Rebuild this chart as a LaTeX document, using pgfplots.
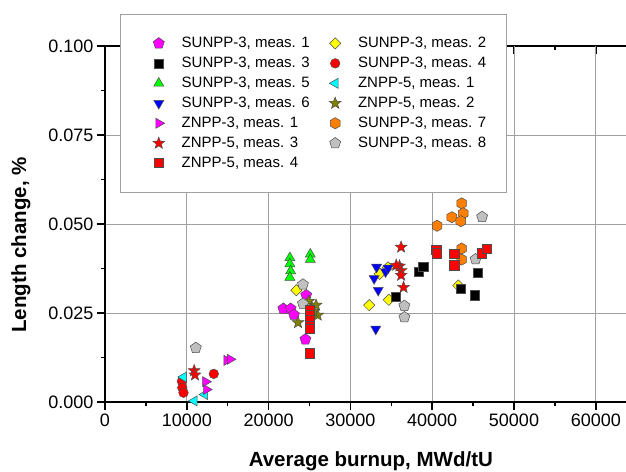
\documentclass[border=0pt]{standalone}
\usepackage{fontspec}
\setmainfont{Liberation Sans}
\usepackage{pgfplots}
\pgfplotsset{compat=1.18}

\definecolor{lgray}{RGB}{192,192,192}
\definecolor{gridgray}{RGB}{160,160,160}
\definecolor{cMag}{RGB}{255,0,255}
\definecolor{cYel}{RGB}{255,255,0}
\definecolor{cCyan}{RGB}{0,255,255}
\definecolor{cGreen}{RGB}{0,255,0}
\definecolor{cBlue}{RGB}{0,0,255}
\definecolor{cRed}{RGB}{255,0,0}
\definecolor{cOlive}{RGB}{128,128,0}
\definecolor{cOrange}{RGB}{255,128,0}

\pgfdeclareplotmark{hexagon*}{%
  \pgfpathmoveto{\pgfpointpolar{90}{\pgfplotmarksize}}%
  \pgfpathlineto{\pgfpointpolar{150}{\pgfplotmarksize}}%
  \pgfpathlineto{\pgfpointpolar{210}{\pgfplotmarksize}}%
  \pgfpathlineto{\pgfpointpolar{270}{\pgfplotmarksize}}%
  \pgfpathlineto{\pgfpointpolar{330}{\pgfplotmarksize}}%
  \pgfpathlineto{\pgfpointpolar{30}{\pgfplotmarksize}}%
  \pgfpathclose
  \pgfusepathqfillstroke}
\pgfdeclareplotmark{star5*}{%
  \pgfpathmoveto{\pgfpointpolar{90}{\pgfplotmarksize}}%
  \pgfpathlineto{\pgfpointpolar{126}{0.42\pgfplotmarksize}}%
  \pgfpathlineto{\pgfpointpolar{162}{\pgfplotmarksize}}%
  \pgfpathlineto{\pgfpointpolar{198}{0.42\pgfplotmarksize}}%
  \pgfpathlineto{\pgfpointpolar{234}{\pgfplotmarksize}}%
  \pgfpathlineto{\pgfpointpolar{270}{0.42\pgfplotmarksize}}%
  \pgfpathlineto{\pgfpointpolar{306}{\pgfplotmarksize}}%
  \pgfpathlineto{\pgfpointpolar{342}{0.42\pgfplotmarksize}}%
  \pgfpathlineto{\pgfpointpolar{18}{\pgfplotmarksize}}%
  \pgfpathlineto{\pgfpointpolar{54}{0.42\pgfplotmarksize}}%
  \pgfpathclose
  \pgfusepathqfillstroke}

\pgfplotsset{
  pt/.style={only marks, every mark/.append style={draw=black!70, line width=0.5pt, fill=#1}},
}

\begin{document}
\begin{tikzpicture}
% top frame line with inward ticks
\begin{axis}[
  name=topax,
  scale only axis, width=531.7pt, height=356pt,
  xmin=0, xmax=65000, ymin=0, ymax=0.1,
  axis x line*=top, axis y line=none,
  x axis line style={-, line width=2pt},
  scaled ticks=false,
  xtick={0,10000,...,60000},
  minor xtick={5000,15000,25000,35000,45000,55000},
  xticklabels={},
  tick align=inside,
  major tick length=8pt, minor tick length=4pt,
  tick style={black, line width=1.5pt},
]
\end{axis}

\begin{axis}[
  name=ax,
  scale only axis, width=531.7pt, height=356pt,
  xmin=0, xmax=65000, ymin=0, ymax=0.1,
  axis x line*=bottom, axis y line*=left,
  x axis line style={-}, y axis line style={-},
  axis line style={line width=2pt},
  xtick={0,10000,...,60000},
  minor xtick={5000,15000,25000,35000,45000,55000},
  ytick={0,0.025,0.05,0.075},
  extra y ticks={0.1},
  extra tick style={grid=none},
  minor ytick={0.0125,0.0375,0.0625,0.0875},
  tick align=outside,
  major tick length=8pt, minor tick length=4pt,
  tick style={black, line width=1.5pt},
  grid=major,
  major grid style={gridgray, line width=0.8pt},
  scaled ticks=false,
  /pgf/number format/assume math mode=true,
  tick label style={font=\fontsize{18}{20}\selectfont},
  xticklabel style={/pgf/number format/1000 sep={}},
  yticklabel style={/pgf/number format/.cd, fixed, fixed zerofill, precision=3},
  xlabel={Average burnup, MWd/tU},
  ylabel={Length change, \%},
  every axis x label/.style={at={(axis description cs:0.5,-0.1798)}, anchor=base,
    font=\fontsize{20.5}{24}\selectfont\bfseries},
  every axis y label/.style={at={(axis description cs:-0.158,0.441)}, rotate=90, anchor=center,
    font=\fontsize{20.5}{24}\selectfont\bfseries},
  legend columns=2,
  legend cell align=left,
  legend image code/.code={\path (-20pt,0pt); \draw[#1] plot coordinates {(0pt,0pt)};},
  legend style={
    at={(0.0282,1.0899)}, anchor=north west,
    draw=gridgray, line width=0.8pt, fill=white,
    font=\fontsize{15}{17}\selectfont,
    inner xsep=18pt, inner ysep=21pt,
    row sep=4pt,
    /tikz/every odd column/.append style={column sep=15pt},
    /tikz/every even column/.append style={column sep=3pt},
  },
]

% SUNPP-3, meas. 1
\addplot[pt=cMag, mark=pentagon*, mark size=5.8pt] coordinates {
  (21800,0.0262) (22700,0.0262) (23100,0.0245) (24600,0.0300) (24500,0.0176)
};
\addlegendentry{SUNPP-3, meas. 1}

% SUNPP-3, meas. 2
\addplot[pt=cYel, mark=square*, mark size=4pt, every mark/.append style={rotate=45}] coordinates {
  (23400,0.0314) (32300,0.0272) (34700,0.0287) (33600,0.0360) (34600,0.0378) (43200,0.0327)
};
\addlegendentry{SUNPP-3, meas. 2}

% SUNPP-3, meas. 3
\addplot[pt=black, mark=square*, mark size=4.6pt] coordinates {
  (35500,0.0295) (38400,0.0366) (38900,0.0380) (43500,0.0318) (45600,0.0363) (45200,0.0300)
};
\addlegendentry{SUNPP-3, meas. 3}

% SUNPP-3, meas. 4
\addplot[pt=cRed, mark=*, mark size=4.8pt] coordinates {
  (9400,0.0058) (9450,0.0040) (9600,0.0026) (13300,0.0079)
};
\addlegendentry{SUNPP-3, meas. 4}

% SUNPP-3, meas. 5
\addplot[pt=cGreen, mark=triangle*, mark size=5.8pt] coordinates {
  (22600,0.0405) (22600,0.0388) (22700,0.0368) (22600,0.0350) (25100,0.0415) (25100,0.0400)
};
\addlegendentry{SUNPP-3, meas. 5}

% ZNPP-5, meas. 1
\addplot[pt=cCyan, mark=triangle*, mark size=5.8pt, every mark/.append style={rotate=90}] coordinates {
  (9600,0.0070) (12200,0.0021) (10900,0.0003)
};
\addlegendentry{ZNPP-5, meas. 1}

% SUNPP-3, meas. 6
\addplot[pt=cBlue, mark=triangle*, mark size=5.8pt, every mark/.append style={rotate=180}] coordinates {
  (33200,0.0379) (32900,0.0347) (33400,0.0314) (34300,0.0366) (34600,0.0376) (33100,0.0205)
};
\addlegendentry{SUNPP-3, meas. 6}

% ZNPP-5, meas. 2
\addplot[pt=cOlive, mark=star5*, mark size=6.2pt] coordinates {
  (23600,0.0223) (24900,0.0283) (25300,0.0265) (25800,0.0272) (26000,0.0244) (25500,0.0255)
};
\addlegendentry{ZNPP-5, meas. 2}

% ZNPP-3, meas. 1
\addplot[pt=cMag, mark=triangle*, mark size=5.8pt, every mark/.append style={rotate=-90}] coordinates {
  (12300,0.0057) (12400,0.0035) (14900,0.0117) (15300,0.0120)
};
\addlegendentry{ZNPP-3, meas. 1}

% SUNPP-3, meas. 7
\addplot[pt=cOrange, mark=hexagon*, mark size=5.6pt] coordinates {
  (43600,0.0558) (43800,0.0530) (42400,0.0519) (43500,0.0508) (40600,0.0495) (43600,0.0431) (43600,0.0400)
};
\addlegendentry{SUNPP-3, meas. 7}

% ZNPP-5, meas. 3
\addplot[pt=cRed, mark=star5*, mark size=6.2pt] coordinates {
  (10900,0.0088) (11000,0.0076) (36200,0.0435) (36000,0.0382) (36200,0.0369) (36200,0.0356) (36500,0.0322) (35600,0.0384)
};
\addlegendentry{ZNPP-5, meas. 3}

% SUNPP-3, meas. 8
\addplot[pt=lgray, mark=pentagon*, mark size=5.8pt] coordinates {
  (11100,0.0152) (24200,0.0330) (24200,0.0276) (36600,0.0270) (36600,0.0238) (46100,0.0520) (45300,0.0401)
};
\addlegendentry{SUNPP-3, meas. 8}

% ZNPP-5, meas. 4
\addplot[pt=cRed, mark=square*, mark size=4.6pt] coordinates {
  (25000,0.0260) (25000,0.0245) (25000,0.0230) (25000,0.0215) (25000,0.0205) (25000,0.0137)
  (40500,0.0428) (40600,0.0418) (42700,0.0416) (42700,0.0384) (46100,0.0418) (46700,0.0430)
};
\addlegendentry{ZNPP-5, meas. 4}

\end{axis}
\pgfresetboundingbox
\path[use as bounding box] ([xshift=-105pt,yshift=-69pt]ax.south west) rectangle ([xshift=521pt,yshift=46pt]ax.north west);
\end{tikzpicture}
\end{document}
